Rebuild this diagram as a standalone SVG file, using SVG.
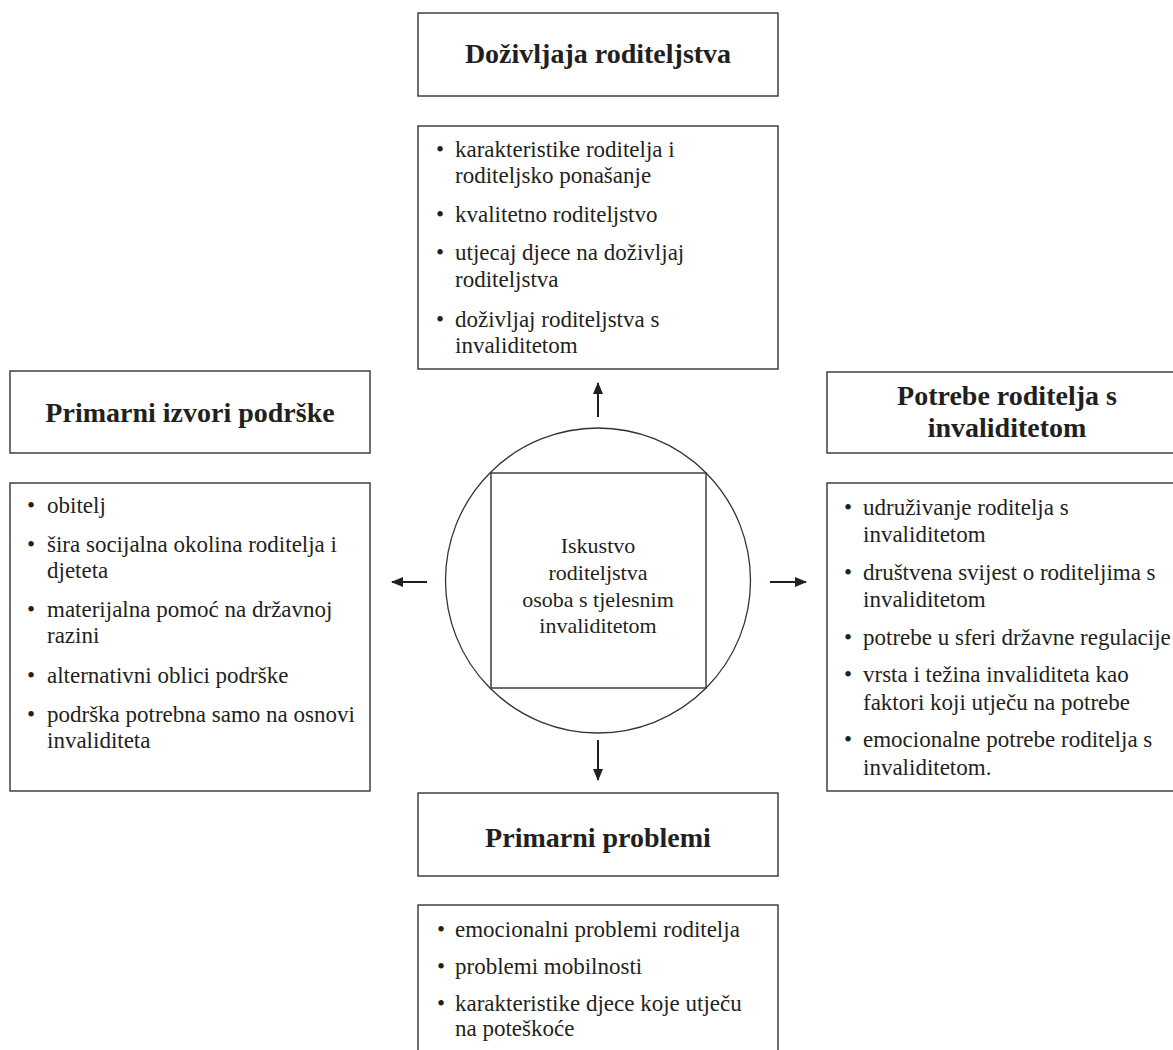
<svg xmlns="http://www.w3.org/2000/svg" width="1173" height="1050" viewBox="0 0 1173 1050">
<style>
.box{fill:#fff;stroke:#333;stroke-width:1.4}
.title{font-family:"Liberation Serif","Times New Roman",serif;font-weight:bold;font-size:28px;fill:#231f20;text-anchor:middle}
.item{font-family:"Liberation Serif","Times New Roman",serif;font-size:23px;fill:#231f20}
.center{font-family:"Liberation Serif","Times New Roman",serif;font-size:22px;fill:#231f20;text-anchor:middle}
.conn{stroke:#231f20;stroke-width:2;fill:none;marker-end:url(#ah)}
</style>
<defs>
<marker id="ah" viewBox="0 0 12 10" refX="11" refY="5" markerWidth="12" markerHeight="10" markerUnits="userSpaceOnUse" orient="auto">
<path d="M0,0 L12,5 L0,10 z" fill="#231f20"/>
</marker>
</defs>
<rect width="1173" height="1050" fill="#fff"/>

<g id="center">
<circle cx="598" cy="580.5" r="152.5" fill="none" stroke="#333" stroke-width="1.3"/>
<rect x="491" y="473" width="215" height="215" fill="none" stroke="#333" stroke-width="1.4"/>
<text class="center" x="598" y="553">Iskustvo</text>
<text class="center" x="598" y="580">roditeljstva</text>
<text class="center" x="598" y="607">osoba s tjelesnim</text>
<text class="center" x="598" y="633">invaliditetom</text>
</g>

<g id="top-title">
<rect class="box" x="418" y="13" width="360" height="83"/>
<text class="title" x="598" y="63">Doživljaja roditeljstva</text>
</g>
<g id="top-list">
<rect class="box" x="418" y="126" width="360" height="243"/>
<g class="item">
<text x="436" y="157">•</text><text x="455" y="157">karakteristike roditelja i</text>
<text x="455" y="183">roditeljsko ponašanje</text>
<text x="436" y="222">•</text><text x="455" y="222">kvalitetno roditeljstvo</text>
<text x="436" y="260">•</text><text x="455" y="260">utjecaj djece na doživljaj</text>
<text x="455" y="287">roditeljstva</text>
<text x="436" y="327">•</text><text x="455" y="327">doživljaj roditeljstva s</text>
<text x="455" y="353">invaliditetom</text>
</g>
</g>

<g id="left-title">
<rect class="box" x="10" y="371" width="360" height="82"/>
<text class="title" x="190" y="422">Primarni izvori podrške</text>
</g>
<g id="left-list">
<rect class="box" x="10" y="483" width="360" height="308"/>
<g class="item">
<text x="27" y="513">•</text><text x="47" y="513">obitelj</text>
<text x="27" y="552">•</text><text x="47" y="552">šira socijalna okolina roditelja i</text>
<text x="47" y="578">djeteta</text>
<text x="27" y="617">•</text><text x="47" y="617">materijalna pomoć na državnoj</text>
<text x="47" y="643">razini</text>
<text x="27" y="683">•</text><text x="47" y="683">alternativni oblici podrške</text>
<text x="27" y="722">•</text><text x="47" y="722">podrška potrebna samo na osnovi</text>
<text x="47" y="748">invaliditeta</text>
</g>
</g>

<g id="right-title">
<rect class="box" x="827" y="372" width="360" height="81"/>
<text class="title" x="1007" y="405">Potrebe roditelja s</text>
<text class="title" x="1007" y="437">invaliditetom</text>
</g>
<g id="right-list">
<rect class="box" x="827" y="483" width="360" height="308"/>
<g class="item">
<text x="844" y="515">•</text><text x="863" y="515">udruživanje roditelja s</text>
<text x="863" y="542">invaliditetom</text>
<text x="844" y="580">•</text><text x="863" y="580">društvena svijest o roditeljima s</text>
<text x="863" y="607">invaliditetom</text>
<text x="844" y="645">•</text><text x="863" y="645">potrebe u sferi državne regulacije</text>
<text x="844" y="682">•</text><text x="863" y="682">vrsta i težina invaliditeta kao</text>
<text x="863" y="710">faktori koji utječu na potrebe</text>
<text x="844" y="747">•</text><text x="863" y="747">emocionalne potrebe roditelja s</text>
<text x="863" y="775">invaliditetom.</text>
</g>
</g>

<g id="bottom-title">
<rect class="box" x="418" y="793" width="360" height="83"/>
<text class="title" x="598" y="847">Primarni problemi</text>
</g>
<g id="bottom-list">
<rect class="box" x="418" y="905" width="360" height="160"/>
<g class="item">
<text x="437" y="937">•</text><text x="455" y="937">emocionalni problemi roditelja</text>
<text x="437" y="974">•</text><text x="455" y="974">problemi mobilnosti</text>
<text x="437" y="1011">•</text><text x="455" y="1011">karakteristike djece koje utječu</text>
<text x="455" y="1036">na poteškoće</text>
</g>
</g>

<g id="connectors">
<line class="conn" x1="598" y1="417" x2="598" y2="383"/>
<line class="conn" x1="598" y1="740" x2="598" y2="780"/>
<line class="conn" x1="427" y1="582" x2="392" y2="582"/>
<line class="conn" x1="770" y1="582" x2="806" y2="582"/>
</g>
</svg>
